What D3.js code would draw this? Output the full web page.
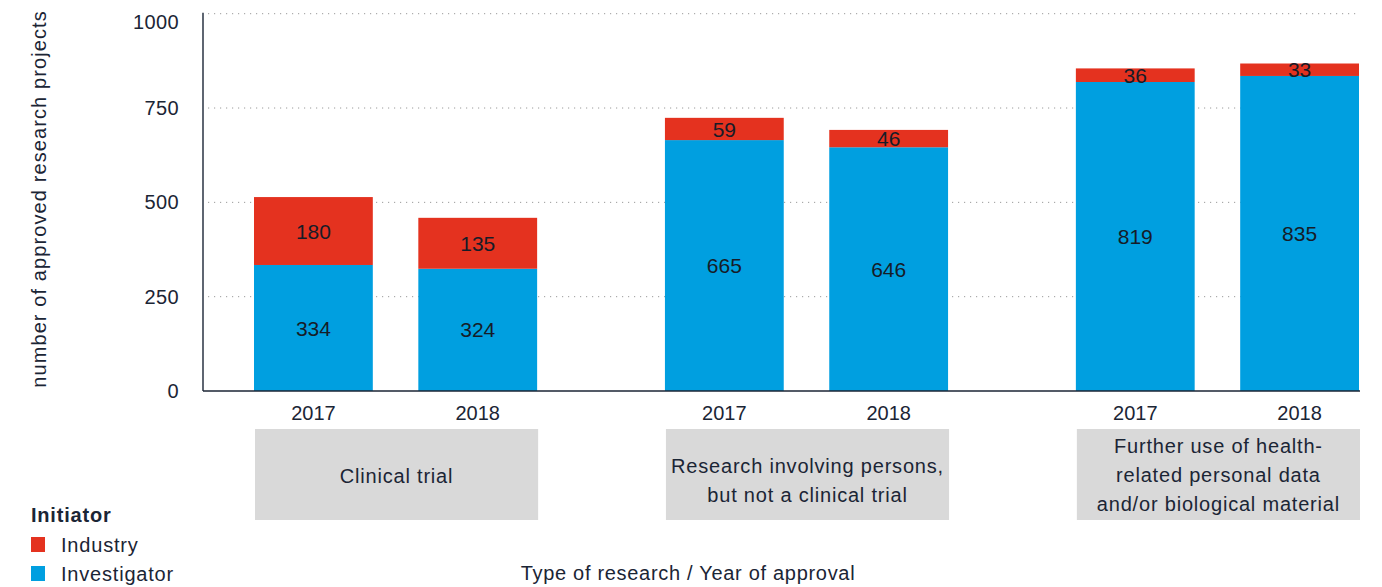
<!DOCTYPE html>
<html>
<head>
<meta charset="utf-8">
<script src="https://cdn.jsdelivr.net/npm/d3@7"></script>
<style>
  body { margin: 0; background: #fff; }
  svg text { font-family: "Liberation Sans", Arial, sans-serif; fill: #1b2535; }
</style>
</head>
<body>
<svg id="chart" width="1382" height="587"></svg>
<script>
// ---------- DATA ----------
const categories = [
  'Clinical trial',
  'Research involving persons, but not a clinical trial',
  'Further use of health-related personal data and/or biological material',
];
const categoryLines = [
  ['Clinical trial'],
  ['Research involving persons,', 'but not a clinical trial'],
  ['Further use of health-', 'related personal data', 'and/or biological material'],
];
const years = ['2017', '2018'];
const investigator = [334, 324, 665, 646, 819, 835];
const industry = [180, 135, 59, 46, 36, 33];
const yTicks = [0, 250, 500, 750, 1000];
const seriesNames = ['Industry', 'Investigator'];
const seriesColors = { Industry: '#e4321f', Investigator: '#009fe0' };

// rows: one per bar
const rows = [];
categories.forEach((c, ci) => {
  years.forEach((yr, yi) => {
    const i = ci * years.length + yi;
    rows.push({ cat: c, year: yr, Investigator: investigator[i], Industry: industry[i] });
  });
});

// ---------- CHART ----------
const svg = d3.select('#chart');
const x0 = 203, plotRight = 1360, yBottom = 391, yTop = 13.7;

const xGroup = d3.scaleBand().domain(categories).range([255, 1360]).paddingInner(0.311).paddingOuter(0);
const xYear = d3.scaleBand().domain(years).range([0, xGroup.bandwidth()]).paddingInner(0.277).paddingOuter(0);
const y = d3.scaleLinear().domain([0, 1000]).range([yBottom, yTop]);
const barX = (d) => xGroup(d.cat) + xYear(d.year) - 1;

// gridlines
svg.append('g')
  .selectAll('line')
  .data(yTicks.filter((t) => t > 0))
  .join('line')
  .attr('x1', x0 + 5)
  .attr('x2', plotRight)
  .attr('y1', (d) => y(d))
  .attr('y2', (d) => y(d))
  .attr('stroke', '#9a9a9a')
  .attr('stroke-width', 1)
  .attr('stroke-dasharray', '1.2,4.8');

// stacked bars
const stack = d3.stack().keys(['Investigator', 'Industry'])(rows);
const barG = svg.append('g');
stack.forEach((layer) => {
  const key = layer.key;
  barG.append('g')
    .selectAll('rect')
    .data(layer)
    .join('rect')
    .attr('x', (d) => barX(d.data))
    .attr('width', xYear.bandwidth())
    .attr('y', (d) => y(d[1]))
    .attr('height', (d) => y(d[0]) - y(d[1]))
    .attr('fill', seriesColors[key]);

  barG.append('g')
    .selectAll('text')
    .data(layer)
    .join('text')
    .attr('x', (d) => barX(d.data) + xYear.bandwidth() / 2)
    .attr('y', (d) => (y(d[0]) + y(d[1])) / 2)
    .attr('dy', '0.36em')
    .attr('text-anchor', 'middle')
    .style('font-size', '21px')
    .style('fill', '#161c28')
    .text((d) => d.data[key]);
});

// y axis
const yAxis = svg.append('g')
  .attr('transform', `translate(${x0},0)`)
  .call(d3.axisLeft(y).tickValues(yTicks).tickFormat(d3.format('d')).tickSize(0).tickPadding(24));
yAxis.select('.domain').attr('stroke', '#1b2535').attr('stroke-width', 1.4)
  .attr('d', `M0,${yTop - 1}V${yBottom}`);
yAxis.selectAll('text')
  .style('font-size', '20px')
  .style('font-family', '"Liberation Sans", Arial, sans-serif')
  .style('letter-spacing', '0.4px')
  .attr('fill', '#1b2535');
// top label sits a little below its gridline, as in the original
yAxis.selectAll('.tick').filter((d) => d === 1000).select('text').attr('dy', '0.75em');

// x axis line
svg.append('line')
  .attr('x1', x0).attr('x2', plotRight)
  .attr('y1', yBottom).attr('y2', yBottom)
  .attr('stroke', '#1b2535').attr('stroke-width', 1.4);

// year labels
svg.append('g')
  .selectAll('text')
  .data(rows)
  .join('text')
  .attr('x', (d) => barX(d) + xYear.bandwidth() / 2)
  .attr('y', 420)
  .attr('text-anchor', 'middle')
  .style('font-size', '20px')
  .text((d) => d.year);

// category boxes
const catG = svg.append('g')
  .selectAll('g')
  .data(categories)
  .join('g')
  .attr('transform', (d) => `translate(${xGroup(d)},429)`);
catG.append('rect')
  .attr('width', xGroup.bandwidth())
  .attr('height', 91)
  .attr('fill', '#d9d9d9');
catG.each(function (d, i) {
  const lines = categoryLines[i];
  const lh = 29;
  const start = 46 - ((lines.length - 1) * lh) / 2 + (lines.length === 2 ? 5 : lines.length === 1 ? 1 : 0);
  d3.select(this)
    .selectAll('text')
    .data(lines)
    .join('text')
    .attr('x', xGroup.bandwidth() / 2)
    .attr('y', (l, j) => start + j * lh)
    .attr('dy', '0.36em')
    .attr('text-anchor', 'middle')
    .style('font-size', '20px')
    .style('letter-spacing', '0.8px')
    .text((l) => l);
});

// y axis title
svg.append('text')
  .attr('transform', 'translate(46,199) rotate(-90)')
  .attr('text-anchor', 'middle')
  .style('font-size', '20px')
  .style('letter-spacing', '1.1px')
  .text('number of approved research projects');

// x axis title
svg.append('text')
  .attr('x', 688)
  .attr('y', 580)
  .attr('text-anchor', 'middle')
  .style('font-size', '20px')
  .style('letter-spacing', '0.7px')
  .text('Type of research / Year of approval');

// legend
const legend = svg.append('g').attr('transform', 'translate(31,0)');
legend.append('text')
  .attr('x', 0)
  .attr('y', 522)
  .style('font-size', '20px')
  .style('font-weight', 'bold')
  .style('letter-spacing', '0.8px')
  .text('Initiator');
const li = legend.selectAll('g.item')
  .data(seriesNames)
  .join('g')
  .attr('class', 'item')
  .attr('transform', (d, i) => `translate(0,${537 + i * 29})`);
li.append('rect')
  .attr('width', 14)
  .attr('height', 15)
  .attr('fill', (d) => seriesColors[d]);
li.append('text')
  .attr('x', 30)
  .attr('y', 15)
  .style('font-size', '20px')
  .style('letter-spacing', '0.8px')
  .text((d) => d);
</script>
</body>
</html>
